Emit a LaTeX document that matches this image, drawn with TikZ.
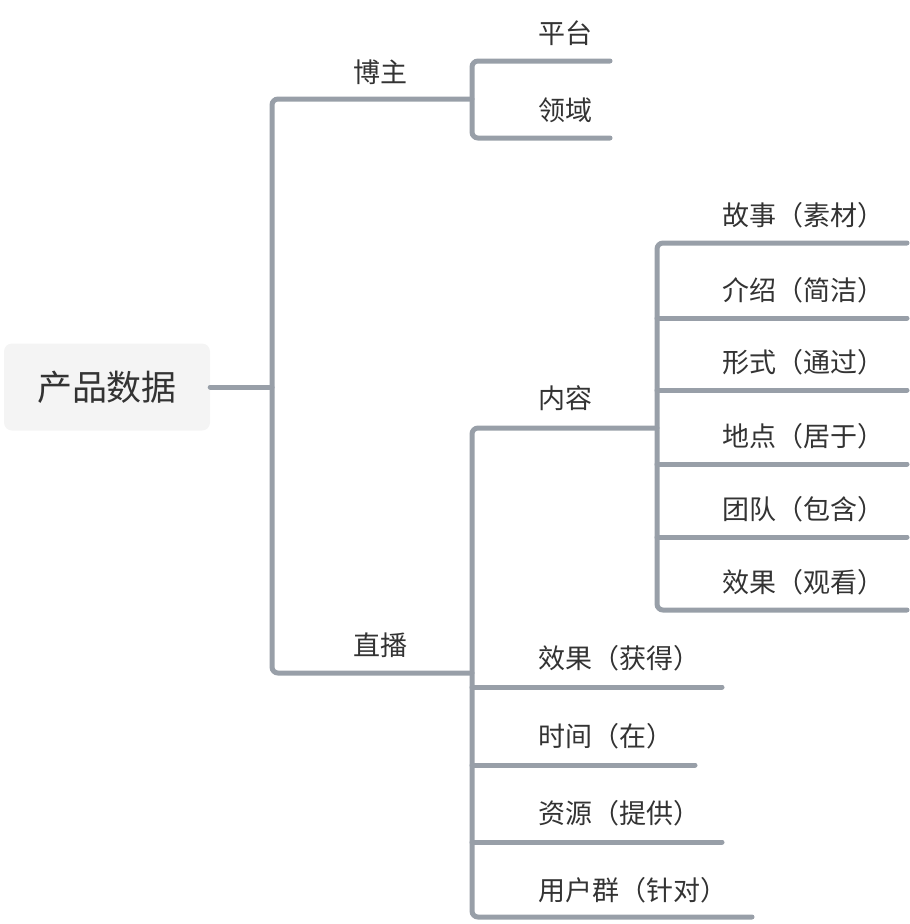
\documentclass[tikz,border=0pt]{standalone}
\usepackage{fontspec}
\usepackage{tikz}
\usetikzlibrary{positioning}
\newfontfamily\cjk{Noto Sans CJK SC}
\definecolor{linegray}{RGB}{152,159,168}
\definecolor{rootfill}{RGB}{244,244,244}
\definecolor{textdark}{RGB}{51,51,51}

\begin{document}
\begin{tikzpicture}[x=1pt, y=-1pt,
  font=\cjk\fontsize{27}{31}\selectfont, text=textdark,
  rootbox/.style={fill=rootfill, rounded corners=8pt, minimum width=206pt, minimum height=87pt, inner sep=0pt, font=\cjk\fontsize{35}{40}\selectfont},
  lbl/.style={anchor=west, inner sep=0pt},
  branch/.style={draw=linegray, line width=5pt, line cap=round, rounded corners=6pt}]
\useasboundingbox (0,0) rectangle (910,924);
% root and first level
\node[rootbox] (root) at (107,387) {产品数据};
\coordinate (trunk) at (272,387);
\coordinate (bozhuJ) at (472,99);
\coordinate (zhiboJ) at (472,673);
\draw[branch] (root.east) -- (trunk);
\draw[branch] (bozhuJ) -| (trunk) |- (zhiboJ);
\node[lbl] (bozhu) at (353,72) {博主};
\node[lbl] (zhibo) at (353,645) {直播};
% 博主
\node[lbl] (pingtai) at (538,33) {平台};
\node[lbl] (lingyu) at (538,110) {领域};
\coordinate (pingtaiE) at (610,61);
\coordinate (lingyuE) at (610,138);
\draw[branch] (pingtaiE) -| (bozhuJ) |- (lingyuE);
% 直播
\node[lbl] (neirong) at (538,398) {内容};
\coordinate (neirongJ) at (657,428);
\coordinate (yonghuE) at (752,917);
\draw[branch] (neirongJ) -| (zhiboJ) |- (yonghuE);
\foreach \name/\txt/\y/\x in {huode/效果（获得）/687/722, shijian/时间（在）/765/695, ziyuan/资源（提供）/842/722}{
  \node[lbl] (\name) at (538,\y-29) {\txt};
  \coordinate (\name S) at (472,\y);
  \coordinate (\name E) at (\x,\y);
  \draw[branch] (\name S) -- (\name E);
}
\node[lbl] (yonghu) at (538,890) {用户群（针对）};
% 内容
\foreach \name/\txt/\y in {gushi/故事（素材）/243, jieshao/介绍（简洁）/318, xingshi/形式（通过）/390, didian/地点（居于）/464, tuandui/团队（包含）/537, guankan/效果（观看）/610}{
  \node[lbl] (\name) at (722,\y-28) {\txt};
  \coordinate (\name S) at (657,\y);
  \coordinate (\name E) at (907,\y);
}
\draw[branch] (gushiE) -| (neirongJ) |- (guankanE);
\foreach \name in {jieshao, xingshi, didian, tuandui}
  \draw[branch] (\name S) -- (\name E);
\end{tikzpicture}
\end{document}
